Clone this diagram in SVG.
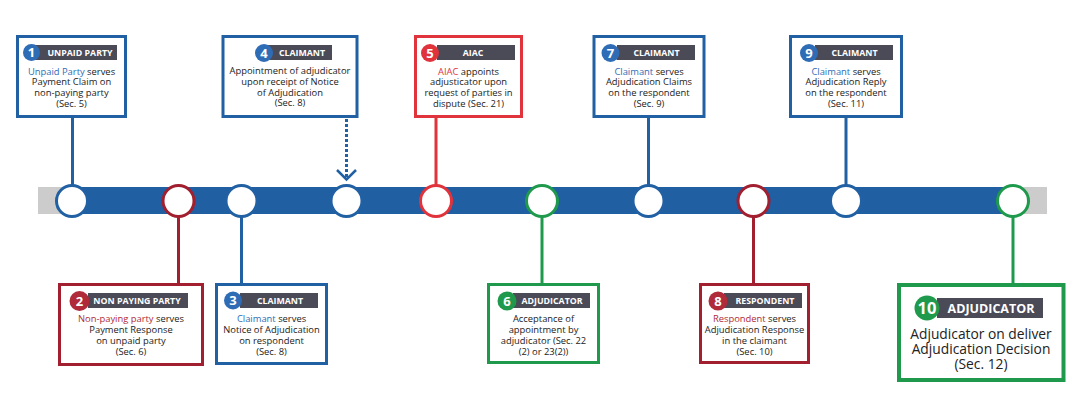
<svg xmlns="http://www.w3.org/2000/svg" width="1080" height="408" viewBox="0 0 1080 408">
<style>
.box{fill:#fff;stroke-width:3}
.b{stroke:#2160a3}.r{stroke:#e1333b}.dr{stroke:#a11f2f}.g{stroke:#1f9a4c}
.hd{fill:#4b4a57}
.hdt{font-family:"Open Sans",sans-serif;font-weight:700;font-size:8.8px;fill:#fff;text-anchor:middle}
.num{font-family:"Open Sans",sans-serif;font-weight:700;font-size:13px;fill:#fff;text-anchor:middle}
.tx{font-family:"Open Sans",sans-serif;font-size:9.4px;fill:#222;text-anchor:middle}
.big{font-size:13.8px}
.cb{fill:#2e6db6}.cr{fill:#e1333b}.cdr{fill:#b02a3a}
.dot{fill:#fff;stroke-width:3}
.ln{fill:none;stroke-width:3}
</style>
<rect width="1080" height="408" fill="#fff"/>
<g id="timeline">
<rect x="38" y="187" width="1009" height="27" fill="#cccccc"/>
<rect x="72" y="187" width="941" height="27" fill="#1f5fa2"/>
</g>
<g id="connectors">
<line class="ln b" x1="72.5" y1="117" x2="72.5" y2="201"/>
<line class="ln dr" x1="178.5" y1="201" x2="178.5" y2="284"/>
<line class="ln b" x1="241.5" y1="201" x2="241.5" y2="284"/>
<line class="ln b" x1="346.5" y1="119" x2="346.5" y2="178" stroke-dasharray="3 2"/>
<polyline points="337,170 346.5,179.5 356,170" fill="none" stroke="#2160a3" stroke-width="2.5"/>
<line class="ln r" x1="436" y1="117" x2="436" y2="201"/>
<line class="ln g" x1="542" y1="201" x2="542" y2="284"/>
<line class="ln b" x1="648.5" y1="117" x2="648.5" y2="201"/>
<line class="ln dr" x1="753.5" y1="201" x2="753.5" y2="284"/>
<line class="ln b" x1="846" y1="117" x2="846" y2="201"/>
<line class="ln g" x1="1013" y1="201" x2="1013" y2="284"/>
</g>
<g id="node1">
<circle class="dot b" cx="72" cy="201" r="15.5"/>
<rect class="box b" x="17.5" y="36.5" width="108" height="80"/>
<rect class="hd" x="35" y="45" width="82" height="15"/>
<circle class="cb" cx="31.5" cy="52.5" r="8.5"/>
<text class="num" x="31.5" y="57.2">1</text>
<text class="hdt" x="80" y="55.7">UNPAID PARTY</text>
<text class="tx" x="71.5" y="74.5"><tspan fill="#2e6db6">Unpaid Party</tspan> serves</text>
<text class="tx" x="71.5" y="85.2">Payment Claim on</text>
<text class="tx" x="71.5" y="95.9">non-paying party</text>
<text class="tx" x="71.5" y="106.6">(Sec. 5)</text>
</g>
<g id="node2">
<circle class="dot dr" cx="178.5" cy="201" r="15.5"/>
<rect class="box dr" x="59.5" y="284.5" width="143" height="80"/>
<rect class="hd" x="88" y="293" width="100" height="15"/>
<circle class="cdr" cx="79.5" cy="301" r="10"/>
<text class="num" x="79.5" y="305.7">2</text>
<text class="hdt" x="137" y="303.7">NON PAYING PARTY</text>
<text class="tx" x="131" y="321.5"><tspan fill="#b02a3a">Non-paying party</tspan> serves</text>
<text class="tx" x="131" y="332.5">Payment Response</text>
<text class="tx" x="131" y="343.5">on unpaid party</text>
<text class="tx" x="131" y="354.5">(Sec. 6)</text>
</g>
<g id="node3">
<circle class="dot b" cx="241.5" cy="201" r="15.5"/>
<rect class="box b" x="216.5" y="284.5" width="110" height="79"/>
<rect class="hd" x="240" y="293" width="78" height="15"/>
<circle class="cb" cx="233" cy="300.5" r="9"/>
<text class="num" x="233" y="305.2">3</text>
<text class="hdt" x="280" y="303.7">CLAIMANT</text>
<text class="tx" x="271.5" y="321.5"><tspan fill="#2e6db6">Claimant</tspan> serves</text>
<text class="tx" x="271.5" y="332.5">Notice of Adjudication</text>
<text class="tx" x="271.5" y="343.5">on respondent</text>
<text class="tx" x="271.5" y="354.5">(Sec. 8)</text>
</g>
<g id="node4">
<circle class="dot b" cx="346.5" cy="201" r="15.5"/>
<rect class="box b" x="223" y="36.5" width="134" height="80"/>
<rect class="hd" x="268" y="45" width="64" height="15"/>
<circle class="cb" cx="264" cy="53" r="9"/>
<text class="num" x="264" y="57.7">4</text>
<text class="hdt" x="302" y="55.7">CLAIMANT</text>
<text class="tx" x="290" y="74">Appointment of adjudicator</text>
<text class="tx" x="290" y="84.8">upon receipt of Notice</text>
<text class="tx" x="290" y="95.6">of Adjudication</text>
<text class="tx" x="290" y="106.4">(Sec. 8)</text>
</g>
<g id="node5">
<circle class="dot r" cx="436" cy="201" r="15.5"/>
<rect class="box r" x="415.5" y="36.5" width="106" height="80"/>
<rect class="hd" x="437" y="45" width="78" height="15"/>
<circle class="cr" cx="430" cy="53" r="9"/>
<text class="num" x="430" y="57.7">5</text>
<text class="hdt" x="473" y="55.7">AIAC</text>
<text class="tx" x="468.5" y="74.5"><tspan fill="#e1333b">AIAC</tspan> appoints</text>
<text class="tx" x="468.5" y="85.2">adjusticator upon</text>
<text class="tx" x="468.5" y="95.9">request of parties in</text>
<text class="tx" x="468.5" y="106.6">dispute (Sec. 21)</text>
</g>
<g id="node6">
<circle class="dot g" cx="542" cy="201" r="15.5"/>
<rect class="box g" x="488.5" y="284.5" width="110" height="78"/>
<rect class="hd" x="513" y="293" width="77" height="15"/>
<circle fill="#1f9a4c" cx="507" cy="301" r="9.5"/>
<text class="num" x="507" y="305.7">6</text>
<text class="hdt" x="552" y="303.7">ADJUDICATOR</text>
<text class="tx" x="543.5" y="321.5">Acceptance of</text>
<text class="tx" x="543.5" y="332.5">appointment by</text>
<text class="tx" x="543.5" y="343.5">adjudicator (Sec. 22</text>
<text class="tx" x="543.5" y="354.5">(2) or 23(2))</text>
</g>
<g id="node7">
<circle class="dot b" cx="648.5" cy="201" r="15.5"/>
<rect class="box b" x="594" y="36.5" width="110" height="80"/>
<rect class="hd" x="617" y="45" width="78" height="15"/>
<circle class="cb" cx="610.5" cy="53" r="9"/>
<text class="num" x="610.5" y="57.7">7</text>
<text class="hdt" x="656.5" y="55.7">CLAIMANT</text>
<text class="tx" x="649" y="74.5"><tspan fill="#2e6db6">Claimant</tspan> serves</text>
<text class="tx" x="649" y="85.2">Adjudication Claims</text>
<text class="tx" x="649" y="95.9">on the respondent</text>
<text class="tx" x="649" y="106.6">(Sec. 9)</text>
</g>
<g id="node8">
<circle class="dot dr" cx="753.5" cy="201" r="15.5"/>
<rect class="box dr" x="700.5" y="284.5" width="108" height="78"/>
<rect class="hd" x="724" y="293" width="78" height="15"/>
<circle class="cdr" cx="718" cy="301" r="9.5"/>
<text class="num" x="718" y="305.7">8</text>
<text class="hdt" x="765" y="303.7">RESPONDENT</text>
<text class="tx" x="754.5" y="321.5"><tspan fill="#b02a3a">Respondent</tspan> serves</text>
<text class="tx" x="754.5" y="332.5">Adjudication Response</text>
<text class="tx" x="754.5" y="343.5">in the claimant</text>
<text class="tx" x="754.5" y="354.5">(Sec. 10)</text>
</g>
<g id="node9">
<circle class="dot b" cx="846" cy="201" r="15.5"/>
<rect class="box b" x="790.5" y="36.5" width="111" height="80"/>
<rect class="hd" x="815" y="45" width="78" height="15"/>
<circle class="cb" cx="809" cy="53" r="9"/>
<text class="num" x="809" y="57.7">9</text>
<text class="hdt" x="854.5" y="55.7">CLAIMANT</text>
<text class="tx" x="846" y="74.5"><tspan fill="#2e6db6">Claimant</tspan> serves</text>
<text class="tx" x="846" y="85.2">Adjudication Reply</text>
<text class="tx" x="846" y="95.9">on the respondent</text>
<text class="tx" x="846" y="106.6">(Sec. 11)</text>
</g>
<g id="node10">
<circle class="dot g" cx="1013" cy="201" r="15.5"/>
<rect class="box g" x="899" y="285" width="164.5" height="95" style="stroke-width:4"/>
<rect class="hd" x="937" y="298" width="106" height="20"/>
<circle fill="#1f9a4c" cx="927" cy="308" r="12.5"/>
<text class="num" x="927" y="314" style="font-size:16.5px">10</text>
<text class="hdt" x="991" y="312.5" style="font-size:12.5px">ADJUDICATOR</text>
<text class="tx big" x="981" y="338.5">Adjudicator on deliver</text>
<text class="tx big" x="981" y="353.5">Adjudication Decision</text>
<text class="tx big" x="981" y="368.5">(Sec. 12)</text>
</g>
</svg>
